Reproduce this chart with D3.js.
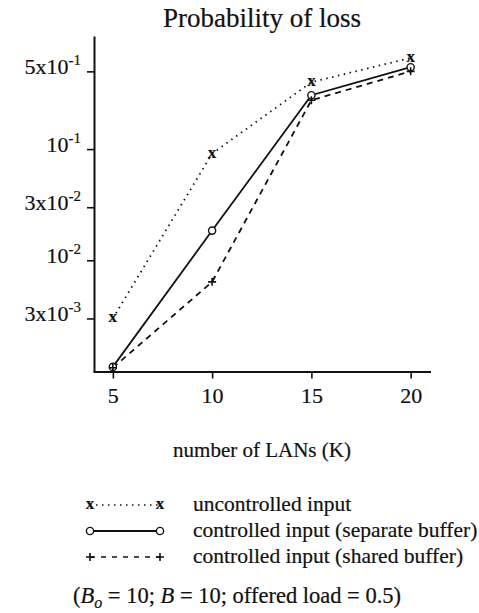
<!DOCTYPE html>
<html>
<head>
<meta charset="utf-8">
<script src="https://cdn.jsdelivr.net/npm/d3@7"></script>
<style>
  body { margin: 0; background: #fff; }
  svg text { font-family: "Liberation Serif", "DejaVu Serif", serif; fill: #111; stroke: #111; stroke-width: 0.2px; }
</style>
</head>
<body>
<svg id="chart"></svg>
<script>
// --- data ---
const lans = [5, 10, 15, 20];
const uncontrolled = [0.003, 0.091, 0.40, 0.66];
const controlledSeparate = [0.0011, 0.0185, 0.305, 0.545];
const controlledShared = [0.00108, 0.0064, 0.275, 0.50];

const xTicks = [5, 10, 15, 20];
const yTicks = [0.003, 0.01, 0.03, 0.1, 0.5];
const yTickMantissa = ["3x10", "10", "3x10", "10", "5x10"];
const yTickExponent = ["-3", "-2", "-2", "-1", "-1"];

const legendLabels = [
  "uncontrolled input",
  "controlled input (separate buffer)",
  "controlled input (shared buffer)"
];

// --- setup ---
const width = 479;
const height = 613;

const svg = d3.select("#chart")
  .attr("width", width)
  .attr("height", height);

const x = d3.scaleLinear().domain([4, 21]).range([93, 430.5]);
const y = d3.scaleLog().domain([0.001, 1.04]).range([371.5, 36]);

// title
svg.append("text")
  .attr("x", 262)
  .attr("y", 27)
  .attr("text-anchor", "middle")
  .style("font-size", "27px")
  .text("Probability of loss");

// --- axes ---
const xAxis = svg.append("g")
  .attr("transform", `translate(0,${y(0.001)})`)
  .call(d3.axisBottom(x).tickValues(xTicks).tickSize(7).tickSizeOuter(0).tickPadding(9));

const yAxis = svg.append("g")
  .attr("transform", `translate(94,0)`)
  .call(d3.axisLeft(y).tickValues(yTicks).tickSize(7).tickSizeOuter(0).tickFormat(""));

[xAxis, yAxis].forEach(g => {
  g.select(".domain").attr("stroke", "#111").attr("stroke-width", 2);
  g.selectAll(".tick line").attr("stroke", "#111").attr("stroke-width", 1.6);
});

xAxis.selectAll(".tick text")
  .style("font-size", "22px")
  .attr("dy", "0.72em");

// y tick labels as mantissa + superscript exponent
const yLabels = svg.append("g");
yTicks.forEach((t, i) => {
  const txt = yLabels.append("text")
    .attr("x", 81)
    .attr("y", y(t) + 3)
    .attr("text-anchor", "end")
    .style("font-size", "22px");
  txt.append("tspan").text(yTickMantissa[i]);
  txt.append("tspan")
    .attr("dy", -9)
    .style("font-size", "15px")
    .text(yTickExponent[i]);
});

// x axis label
svg.append("text")
  .attr("x", 262)
  .attr("y", 457)
  .attr("text-anchor", "middle")
  .style("font-size", "21px")
  .text("number of LANs (K)");

// --- lines ---
const line = d3.line()
  .x((d, i) => x(lans[i]))
  .y(d => y(d));

const series = [
  { values: uncontrolled, dash: "1.5,4.5", marker: "x" },
  { values: controlledSeparate, dash: null, marker: "o" },
  { values: controlledShared, dash: "6,5", marker: "+" }
];

const plot = svg.append("g");

series.forEach(s => {
  plot.append("path")
    .datum(s.values)
    .attr("d", line)
    .attr("fill", "none")
    .attr("stroke", "#111")
    .attr("stroke-width", 1.8)
    .attr("stroke-dasharray", s.dash);
});

function drawMarker(g, type, cx, cy) {
  if (type === "x") {
    g.append("text")
      .attr("x", cx)
      .attr("y", cy + 4)
      .attr("text-anchor", "middle")
      .style("font-size", "17px")
      .style("font-weight", "bold")
      .text("x");
  } else if (type === "o") {
    g.append("circle")
      .attr("cx", cx).attr("cy", cy).attr("r", 3.6)
      .attr("fill", "#fff")
      .attr("stroke", "#111")
      .attr("stroke-width", 1.4);
  } else {
    g.append("path")
      .attr("d", `M${cx - 4},${cy}H${cx + 4}M${cx},${cy - 4}V${cy + 4}`)
      .attr("stroke", "#111")
      .attr("stroke-width", 1.6);
  }
}

series.forEach(s => {
  s.values.forEach((v, i) => drawMarker(plot, s.marker, x(lans[i]), y(v)));
});

// --- legend ---
const legend = svg.append("g");
const legendRowY = d3.scalePoint().domain(d3.range(legendLabels.length)).range([505, 557]);

series.forEach((s, i) => {
  const ry = legendRowY(i);
  legend.append("line")
    .attr("x1", 90).attr("x2", 160)
    .attr("y1", ry).attr("y2", ry)
    .attr("stroke", "#111")
    .attr("stroke-width", s.dash ? 1.4 : 1.8)
    .attr("stroke-dasharray", s.dash === "6,5" ? "5,6" : s.dash);
  drawMarker(legend, s.marker, 90, ry);
  drawMarker(legend, s.marker, 160, ry);
  legend.append("text")
    .attr("x", 193)
    .attr("y", ry + 6)
    .style("font-size", "21.5px")
    .text(legendLabels[i]);
});

// --- footnote ---
const note = svg.append("text")
  .attr("x", 237)
  .attr("y", 603)
  .attr("text-anchor", "middle")
  .style("font-size", "22.5px");
note.append("tspan").text("(");
note.append("tspan").style("font-style", "italic").text("B");
note.append("tspan").attr("dy", 5).style("font-style", "italic").style("font-size", "16px").text("o");
note.append("tspan").attr("dy", -5).text(" = 10; ");
note.append("tspan").style("font-style", "italic").text("B");
note.append("tspan").text(" = 10; offered load = 0.5)");
</script>
</body>
</html>
